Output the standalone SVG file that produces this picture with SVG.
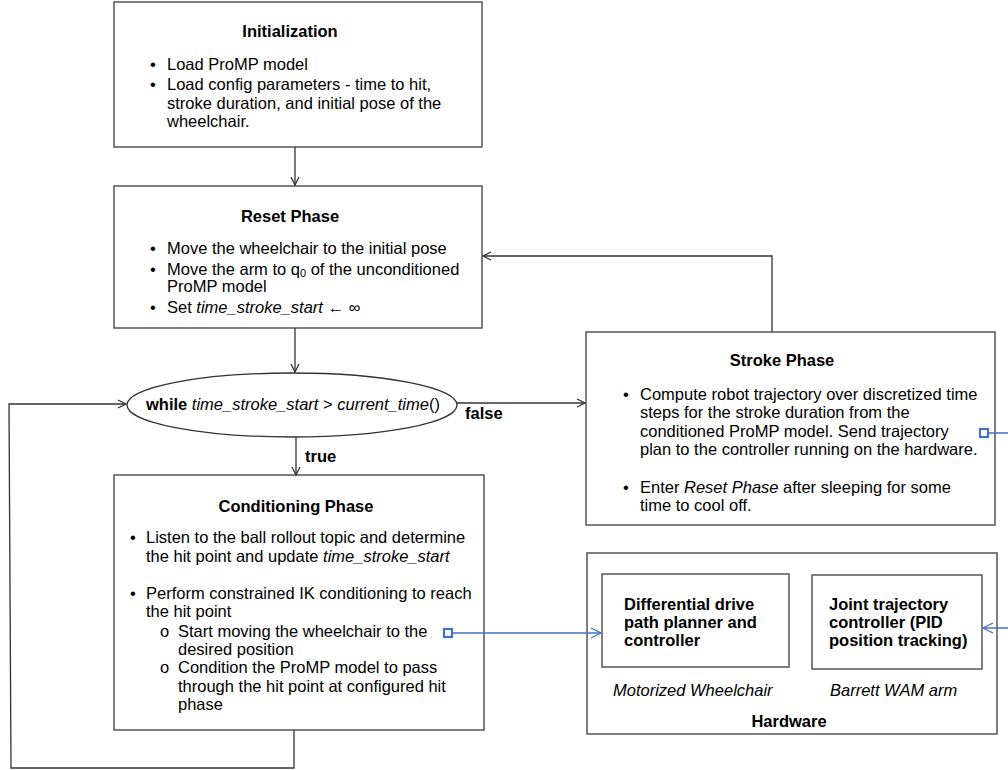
<svg xmlns="http://www.w3.org/2000/svg" width="1008" height="770" viewBox="0 0 1008 770">
<defs>
<marker id="arr" viewBox="0 0 10 10" refX="9" refY="5" markerWidth="10" markerHeight="10" markerUnits="userSpaceOnUse" orient="auto">
<path d="M1,1 L9,5 L1,9" fill="none" stroke="#333" stroke-width="1.3"/>
</marker>
<marker id="arrb" viewBox="0 0 12 12" refX="11" refY="6" markerWidth="12" markerHeight="12" markerUnits="userSpaceOnUse" orient="auto">
<path d="M1,1 L11,6 L1,11" fill="none" stroke="#4472C4" stroke-width="1.3"/>
</marker>
</defs>
<style>
.box{fill:#fff;stroke:#555;stroke-width:1.5}
.t{font-family:"Liberation Sans",Arial,sans-serif;font-size:16.5px;fill:#000}
.b{font-weight:bold}
.i{font-style:italic}
.c{text-anchor:middle}
.conn{fill:none;stroke:#333;stroke-width:1.3}
.blue{fill:none;stroke:#4472C4;stroke-width:1.5}
</style>
<rect width="1008" height="770" fill="#fff"/>

<g id="init">
<rect class="box" x="114" y="2" width="368" height="145"/>
<text class="t b c" x="290" y="37">Initialization</text>
<text class="t" x="150" y="70">•</text>
<text class="t" x="167" y="70">Load ProMP model</text>
<text class="t" x="150" y="90">•</text>
<text class="t" x="167" y="90">Load config parameters - time to hit,</text>
<text class="t" x="167" y="109">stroke duration, and initial pose of the</text>
<text class="t" x="167" y="127">wheelchair.</text>
</g>

<g id="reset">
<rect class="box" x="114" y="186" width="368" height="142"/>
<text class="t b c" x="290" y="222">Reset Phase</text>
<text class="t" x="150" y="254">•</text>
<text class="t" x="167" y="254">Move the wheelchair to the initial pose</text>
<text class="t" x="150" y="275">•</text>
<text class="t" x="167" y="275">Move the arm to q<tspan font-size="11" dy="2">0</tspan><tspan dy="-2"> of the unconditioned</tspan></text>
<text class="t" x="167" y="292">ProMP model</text>
<text class="t" x="150" y="313">•</text>
<text class="t" x="167" y="313">Set <tspan class="i">time_stroke_start</tspan> ← <tspan class="i">∞</tspan></text>
</g>

<g id="while">
<ellipse cx="292" cy="405" rx="165" ry="32" fill="#fff" stroke="#333" stroke-width="1.3"/>
<text class="t" x="146" y="410"><tspan class="b">while</tspan> <tspan class="i">time_stroke_start</tspan> &gt; <tspan class="i">current_time</tspan>()</text>
<text class="t b" x="465" y="419">false</text>
<text class="t b" x="305" y="462">true</text>
</g>

<g id="stroke">
<rect class="box" x="586" y="332" width="409" height="193"/>
<text class="t b c" x="782" y="366">Stroke Phase</text>
<text class="t" x="623" y="400">•</text>
<text class="t" x="640" y="400">Compute robot trajectory over discretized time</text>
<text class="t" x="640" y="418">steps for the stroke duration from the</text>
<text class="t" x="640" y="437">conditioned ProMP model. Send trajectory</text>
<text class="t" x="640" y="455">plan to the controller running on the hardware.</text>
<text class="t" x="623" y="493">•</text>
<text class="t" x="640" y="493">Enter <tspan class="i">Reset Phase</tspan> after sleeping for some</text>
<text class="t" x="640" y="511">time to cool off.</text>
</g>

<g id="conditioning">
<rect class="box" x="114" y="475" width="370" height="255"/>
<text class="t b c" x="296" y="512">Conditioning Phase</text>
<text class="t" x="130" y="543">•</text>
<text class="t" x="146" y="543">Listen to the ball rollout topic and determine</text>
<text class="t" x="146" y="562">the hit point and update <tspan class="i">time_stroke_start</tspan></text>
<text class="t" x="130" y="599">•</text>
<text class="t" x="146" y="599">Perform constrained IK conditioning to reach</text>
<text class="t" x="146" y="617">the hit point</text>
<text class="t" x="160" y="637" font-size="12">o</text>
<text class="t" x="178" y="637">Start moving the wheelchair to the</text>
<text class="t" x="178" y="655">desired position</text>
<text class="t" x="160" y="673" font-size="12">o</text>
<text class="t" x="178" y="673">Condition the ProMP model to pass</text>
<text class="t" x="178" y="692">through the hit point at configured hit</text>
<text class="t" x="178" y="710">phase</text>
</g>

<g id="hardware">
<rect class="box" x="587" y="553" width="410" height="181"/>
<text class="t b c" x="789" y="727">Hardware</text>
<text class="t i" x="613" y="696">Motorized Wheelchair</text>
<text class="t i" x="830" y="696">Barrett WAM arm</text>
</g>

<g id="diffdrive">
<rect class="box" x="602" y="574" width="187" height="93"/>
<text class="t b" x="624" y="610">Differential drive</text>
<text class="t b" x="624" y="628">path planner and</text>
<text class="t b" x="624" y="646">controller</text>
</g>

<g id="joint">
<rect class="box" x="812" y="575" width="170" height="94"/>
<text class="t b" x="829" y="610">Joint trajectory</text>
<text class="t b" x="829" y="628">controller (PID</text>
<text class="t b" x="829" y="646">position tracking)</text>
</g>

<g id="connectors">
<line class="conn" x1="295" y1="147" x2="295" y2="185" marker-end="url(#arr)"/>
<line class="conn" x1="295" y1="328" x2="295" y2="372" marker-end="url(#arr)"/>
<line class="conn" x1="457" y1="403" x2="585" y2="403" marker-end="url(#arr)"/>
<line class="conn" x1="296" y1="437" x2="296" y2="475" marker-end="url(#arr)"/>
<polyline class="conn" points="772,332 772,256 483,256" marker-end="url(#arr)"/>
<polyline class="conn" points="294,730 294,768 11,768 9,404 126,404" marker-end="url(#arr)"/>
<line class="blue" x1="452" y1="633" x2="601" y2="633" marker-end="url(#arrb)"/>
<rect x="444" y="629" width="8" height="8" fill="#fff" stroke="#4472C4" stroke-width="2.2"/>
<line class="blue" x1="988" y1="433" x2="1008" y2="433"/>
<rect x="980" y="429" width="8" height="8" fill="#fff" stroke="#4472C4" stroke-width="2.2"/>
<line class="blue" x1="1008" y1="628" x2="983" y2="628" marker-end="url(#arrb)"/>
</g>
</svg>
